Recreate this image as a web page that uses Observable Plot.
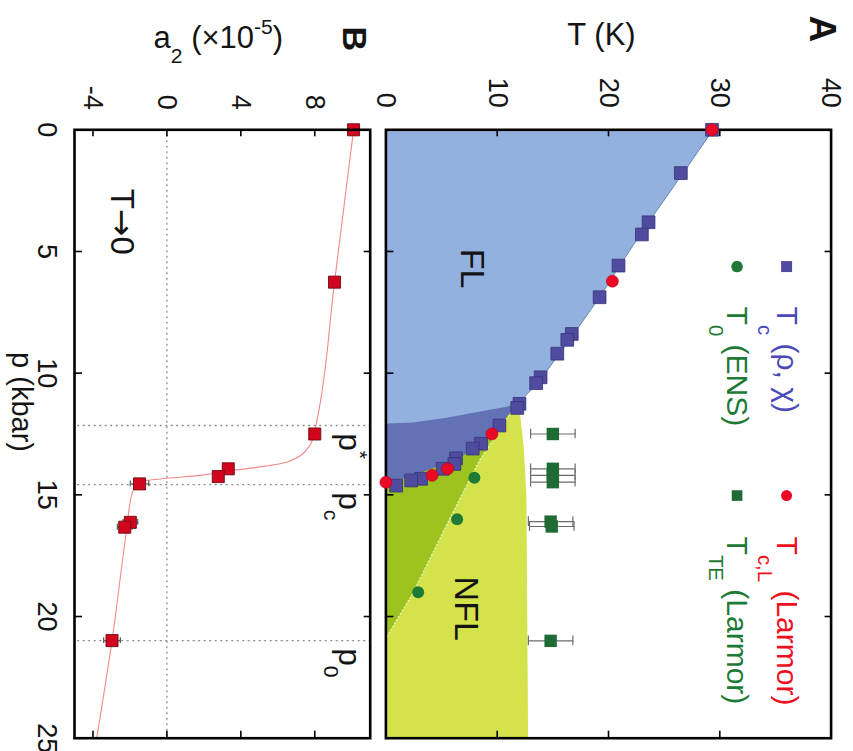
<!DOCTYPE html>
<html><head><meta charset="utf-8">
<script src="https://cdn.jsdelivr.net/npm/d3@7"></script>
<script src="https://cdn.jsdelivr.net/npm/@observablehq/plot@0.6"></script>
<style>
html,body{margin:0;padding:0;background:#fff;overflow:hidden;width:853px;height:751px;}
#fig{position:absolute;left:0;top:0;width:751px;height:853px;transform-origin:0 0;transform:translate(853px,0) rotate(90deg);background:#fff;}
#fig svg{display:block;max-width:none;}
</style></head><body><div id="fig"></div>
<script>
// ---------- axis ticks ----------
const pTicks = [0, 5, 10, 15, 20, 25];
const tTicks = [0, 10, 20, 30, 40];
const aTicks = [-4, 0, 4, 8];

// ---------- panel A : T (K) vs p (kbar) ----------
const tcP  = [0, 1.78, 3.8, 4.3, 5.58, 6.88, 8.39, 8.63, 9.2, 10.17, 10.41, 11.26, 11.43, 12.15, 12.9, 13.1, 13.5, 13.73, 13.93, 14.34, 14.41, 14.62];
const tcT  = [29.3, 26.5, 23.6, 23.0, 20.9, 19.2, 16.7, 16.3, 15.4, 13.9, 13.5, 12.0, 11.8, 10.2, 8.55, 7.8, 6.3, 6.15, 5.1, 3.17, 2.27, 0.92];
const tcLP = [0, 6.22, 12.5, 13.93, 14.2, 14.48];
const tcLT = [29.3, 20.35, 9.53, 5.55, 4.15, 0];
const t0P  = [14.3, 16.0, 19.0];
const t0T  = [7.95, 6.4, 2.9];
const tteP = [12.5, 13.93, 14.2, 14.48, 16.1, 16.3, 21.0];
const tteT = [15.0, 15.0, 15.0, 15.0, 14.8, 14.9, 14.8];
const tteE = [2.0, 2.0, 2.0, 2.0, 2.0, 2.0, 2.0];

// region boundaries
const flEdgeP  = [0, 1.78, 3.8, 5.58, 6.88, 8.5, 10.2, 11.26, 11.4, 11.6, 11.85, 12.05, 12.09];
const flEdgeT  = [29.4, 26.7, 23.6, 21.0, 19.2, 16.7, 14.0, 11.9, 10.8, 8.4, 5.4, 2.4, 0];
const tcEdgeP  = [11.26, 11.37, 12.5, 12.98, 13.52, 14.07, 14.41, 14.7];
const tcEdgeT  = [11.9, 11.6, 9.6, 8.1, 6.6, 3.3, 1.2, 0];
const t0EdgeP  = [11.26, 11.37, 13.6, 16.3, 19.07, 20.9];
const t0EdgeT  = [11.9, 11.6, 8.4, 5.4, 2.4, 0];
const nflEdgeP = [11.26, 11.68, 13.05, 15.1, 25];
const nflEdgeT = [11.9, 12.0, 12.34, 12.58, 12.73];

const legendLabels = ["T_{c} (ρ, χ)", "T_{c,L} (Larmor)", "T_{0} (ENS)", "T_{TE} (Larmor)"];
const regionLabels = ["FL", "NFL"];

// ---------- panel B : a2 vs p ----------
const a2P = [0, 6.26, 12.5, 13.93, 14.25, 14.55, 16.13, 16.33, 20.99];
const a2V = [10.1, 9.07, 8.0, 3.32, 2.78, -1.48, -1.98, -2.28, -2.97];
const a2E = [0, 0, 0, 0, 0, 0.5, 0.4, 0.4, 0.45];
const fitP = [0, 6.26, 12.0, 12.5, 12.98, 13.66, 13.87, 14.0, 14.2, 14.32, 14.39, 14.55, 14.96, 16.33, 20.99, 25];
const fitV = [10.1, 9.07, 8.1, 7.95, 7.73, 6.47, 4.85, 3.59, 1.8, 0, -0.9, -1.62, -1.89, -2.16, -2.97, -3.8];
const pLines = [12.15, 14.58, 20.99];
const pLineLabels = ["p^{*}", "p_{c}", "p_{0}"];

// ---------- styles ----------
const FONT = '"Liberation Sans", Arial, Helvetica, sans-serif';
const C = {
  lightBlue: "#93b1de", darkBlue: "#6371b5", darkGreen: "#9cc31f", lightGreen: "#d4e24b",
  purple: "#4f4b9e", purpleStroke: "#37347a", red: "#ea0a25", green: "#1f7a36",
  tte: "#1e6b35", err: "#6b6b6b", bRed: "#d1051d", bRedStroke: "#6d0b12",
  fit: "#f08a8a", grid: "#8c8c8c", text: "#141414", edge: "#6f86b3"
};
const rows = (P, V, E) => P.map((p, i) => ({p, v: V[i], e: E ? E[i] : 0}));

const tc = rows(tcP, tcT), tcL = rows(tcLP, tcLT), t0 = rows(t0P, t0T), tte = rows(tteP, tteT, tteE);
const flE = rows(flEdgeP, flEdgeT), tcE = rows(tcEdgeP, tcEdgeT), t0E = rows(t0EdgeP, t0EdgeT), nflE = rows(nflEdgeP, nflEdgeT);
const bPts = rows(a2P, a2V, a2E), fit = rows(fitP, fitV);
const bErr = bPts.filter(d => d.e > 0);

// tick lengths (7px) in data units
const tkT = 7 / (445.2 / 40), tkP = 7 / (608.4 / 25), tkA = 7 / (295.7 / 16);
const capP = 0.2;
const zero = () => 0;

const frameTicksX = (ylo, yhi, tk) => [
  Plot.ruleX(pTicks, {x: d => d, y1: () => ylo, y2: () => ylo + tk, stroke: "#000", strokeWidth: 1.6}),
  Plot.ruleX(pTicks, {x: d => d, y1: () => yhi - tk, y2: () => yhi, stroke: "#000", strokeWidth: 1.6})
];
const frameTicksY = (ticks) => [
  Plot.ruleY(ticks, {y: d => d, x1: () => 0, x2: () => tkP, stroke: "#000", strokeWidth: 1.6}),
  Plot.ruleY(ticks, {y: d => d, x1: () => 25 - tkP, x2: () => 25, stroke: "#000", strokeWidth: 1.6})
];

const A = Plot.plot({
  width: 751, height: 472,
  marginLeft: 129.3, marginRight: 13.3, marginTop: 21.4, marginBottom: 5.4,
  x: {domain: [0, 25], axis: null},
  y: {domain: [0, 40]},
  style: {fontFamily: FONT, color: C.text, background: "transparent", overflow: "visible"},
  marks: [
    Plot.areaY(nflE, {x: "p", y1: zero, y2: "v", fill: C.lightGreen}),
    Plot.areaY(t0E, {x: "p", y1: zero, y2: "v", fill: C.darkGreen}),
    Plot.line(t0E, {x: "p", y: "v", stroke: "#eef5b5", strokeWidth: 1.3, strokeDasharray: "1.5,2.2"}),
    Plot.areaY(tcE, {x: "p", y1: zero, y2: "v", fill: C.darkBlue}),
    Plot.areaY(flE, {x: "p", y1: zero, y2: "v", fill: C.lightBlue}),
    Plot.line(flE.filter(d => d.p <= 11.26), {x: "p", y: "v", stroke: C.edge, strokeWidth: 1}),
    ...frameTicksX(0, 40, tkT),
    ...frameTicksY(tTicks),
    Plot.frame({stroke: "#000", strokeWidth: 2.6}),
    Plot.axisY({ticks: tTicks, tickSize: 0, tickPadding: 22, fontSize: 27, label: null, tickFormat: d => String(d)}),
    // error bars
    Plot.ruleX(tte, {x: "p", y1: d => d.v - d.e, y2: d => d.v + d.e, stroke: C.err, strokeWidth: 1.2}),
    Plot.ruleY(tte, {y: d => d.v - d.e, x1: d => d.p - capP, x2: d => d.p + capP, stroke: C.err, strokeWidth: 1.2}),
    Plot.ruleY(tte, {y: d => d.v + d.e, x1: d => d.p - capP, x2: d => d.p + capP, stroke: C.err, strokeWidth: 1.2}),
    // points
    Plot.dot(tc, {x: "p", y: "v", symbol: "square", r: 7.2, fill: C.purple, stroke: C.purpleStroke, strokeWidth: 0.8}),
    Plot.dot(tcL, {x: "p", y: "v", r: 6, fill: C.red, stroke: "#c0001a", strokeWidth: 0.6}),
    Plot.dot(t0, {x: "p", y: "v", r: 6, fill: C.green}),
    Plot.dot(tte, {x: "p", y: "v", symbol: "square", r: 7, fill: C.tte}),
    // region labels
    Plot.text([regionLabels[0]], {x: () => 5.7, y: () => 7.7, text: d => d, fontSize: 34, textAnchor: "middle", lineAnchor: "middle"}),
    Plot.text([regionLabels[1]], {x: () => 19.68, y: () => 7.15, text: d => d, fontSize: 34, textAnchor: "middle", lineAnchor: "middle"}),
    // legend
    Plot.dot([legendLabels[0]], {x: () => 5.62, y: () => 36.0, symbol: "square", r: 6.2, fill: C.purple}),
    Plot.dot([legendLabels[1]], {x: () => 15.03, y: () => 36.0, r: 5.5, fill: C.red}),
    Plot.dot([legendLabels[2]], {x: () => 5.62, y: () => 31.55, r: 5.8, fill: C.green}),
    Plot.dot([legendLabels[3]], {x: () => 15.03, y: () => 31.55, symbol: "square", r: 6, fill: C.tte}),
    Plot.text([legendLabels[0]], {x: () => 5.62, y: () => 36.0, dx: 40, text: d => "\u2063" + d, fill: "#4b48b8", fontSize: 30, textAnchor: "start", lineAnchor: "middle"}),
    Plot.text([legendLabels[1]], {x: () => 15.03, y: () => 36.0, dx: 41, text: d => "\u2063" + d, fill: "#ee1020", fontSize: 30, textAnchor: "start", lineAnchor: "middle"}),
    Plot.text([legendLabels[2]], {x: () => 5.62, y: () => 31.55, dx: 40, text: d => "\u2063" + d, fill: "#1d7a35", fontSize: 30, textAnchor: "start", lineAnchor: "middle"}),
    Plot.text([legendLabels[3]], {x: () => 15.03, y: () => 31.55, dx: 41, text: d => "\u2063" + d, fill: "#1d7a35", fontSize: 30, textAnchor: "start", lineAnchor: "middle"}),
    // panel letter & axis label
    Plot.text(["A"], {frameAnchor: "top-left", dx: -101, dy: 9, text: d => d, fontSize: 37, fontWeight: "bold", textAnchor: "middle", lineAnchor: "middle"}),
    Plot.text(["T (K)"], {frameAnchor: "left", dx: -95, dy: 7, rotate: -90, text: d => d, fontSize: 31, textAnchor: "middle", lineAnchor: "middle"})
  ]
});

const B = Plot.plot({
  width: 751, height: 381,
  marginLeft: 129.3, marginRight: 13.3, marginTop: 10.3, marginBottom: 75,
  x: {domain: [0, 25]},
  y: {domain: [-5, 11]},
  style: {fontFamily: FONT, color: C.text, background: "transparent", overflow: "visible"},
  marks: [
    Plot.ruleY([0], {y: d => d, stroke: C.grid, strokeWidth: 1.3, strokeDasharray: "2,3.5"}),
    Plot.ruleX(pLines, {x: d => d, stroke: C.grid, strokeWidth: 1.3, strokeDasharray: "2,3.5"}),
    Plot.line(fit, {x: "p", y: "v", stroke: C.fit, strokeWidth: 1.1, curve: "monotone-x"}),
    Plot.ruleX(bErr, {x: "p", y1: d => d.v - d.e, y2: d => d.v + d.e, stroke: "#555", strokeWidth: 1.2}),
    Plot.ruleY(bErr, {y: d => d.v - d.e, x1: d => d.p - 0.12, x2: d => d.p + 0.12, stroke: "#555", strokeWidth: 1.2}),
    Plot.ruleY(bErr, {y: d => d.v + d.e, x1: d => d.p - 0.12, x2: d => d.p + 0.12, stroke: "#555", strokeWidth: 1.2}),
    Plot.dot(bPts, {x: "p", y: "v", symbol: "square", r: 6.8, fill: C.bRed, stroke: C.bRedStroke, strokeWidth: 0.9}),
    ...frameTicksX(-5, 11, tkA),
    ...frameTicksY(aTicks),
    Plot.frame({stroke: "#000", strokeWidth: 2.6}),
    Plot.axisX({ticks: pTicks, tickSize: 0, tickPadding: 17, fontSize: 27, label: null, tickFormat: d => String(d)}),
    Plot.axisY({ticks: aTicks, tickSize: 0, tickPadding: 20, fontSize: 27, label: null, tickFormat: d => String(d)}),
    Plot.text(pLines, {x: d => d, y: () => 9.85, dx: 8, text: (d, i) => pLineLabels[i], fontSize: 31, textAnchor: "start", lineAnchor: "middle"}),
    Plot.text(["T→0"], {x: () => 3.78, y: () => -2.48, text: d => d, fontSize: 33, textAnchor: "middle", lineAnchor: "middle"}),
    Plot.text(["B"], {frameAnchor: "top-left", dx: -91, dy: 16, text: d => d, fontSize: 34, fontWeight: "bold", textAnchor: "middle", lineAnchor: "middle"}),
    Plot.text(["a_{2} (×10^{-5})"], {frameAnchor: "left", dx: -92, dy: 4, rotate: -90, text: d => d, fontSize: 31, textAnchor: "middle", lineAnchor: "middle"}),
    Plot.text(["p (kbar)"], {frameAnchor: "bottom", dx: -32, dy: 53, text: d => d, fontSize: 29, textAnchor: "middle", lineAnchor: "middle"})
  ]
});

const fig = document.getElementById("fig");
fig.appendChild(A);
fig.appendChild(B);

// turn _{..} and ^{..} into real sub/superscript tspans; give arrows a font with a full-size glyph
function richText(svg) {
  const ns = "http://www.w3.org/2000/svg";
  svg.querySelectorAll("text").forEach(t => {
    let s = t.textContent;
    const deep = s.startsWith("\u2063");
    if (deep) s = s.slice(1);
    if (!/[_^]\{|→/.test(s)) { if (deep) t.textContent = s; return; }
    const fs = parseFloat(getComputedStyle(t).fontSize) || 30;
    const small = fs * 0.68;
    const down = fs * (deep ? 0.62 : 0.5);
    const up = -fs * 0.45;
    t.textContent = "";
    let cur = 0;
    s.split(/([_^]\{[^}]*\}|→)/).forEach(part => {
      if (!part) return;
      let target = 0, txt = part, isSmall = false, arrow = false;
      if (part.startsWith("_{")) { target = down; txt = part.slice(2, -1); isSmall = true; }
      else if (part.startsWith("^{")) { target = up; txt = part.slice(2, -1); isSmall = true; }
      else if (part === "→") arrow = true;
      const ts = document.createElementNS(ns, "tspan");
      if (target - cur !== 0) ts.setAttribute("dy", (target - cur).toFixed(2));
      cur = target;
      if (isSmall) ts.setAttribute("font-size", small.toFixed(1));
      if (arrow) ts.setAttribute("font-family", '"DejaVu Sans", sans-serif');
      ts.textContent = txt;
      t.appendChild(ts);
    });
  });
}
richText(A);
richText(B);
</script>
</body></html>
